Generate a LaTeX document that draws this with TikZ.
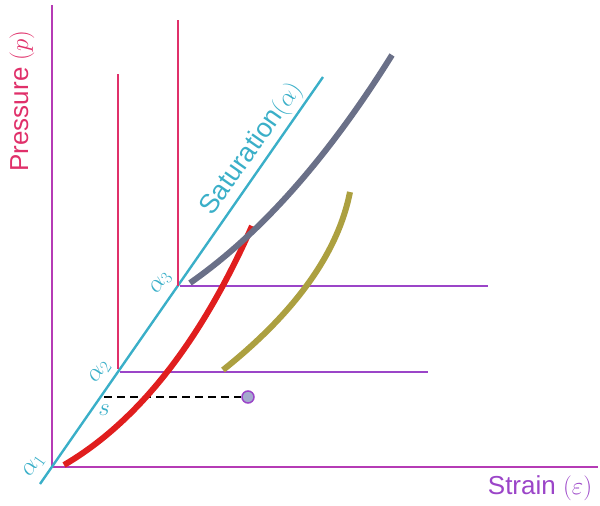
\documentclass[tikz,border=0pt]{standalone}
\usepackage{fontspec}
\setmainfont{Liberation Sans}
\usetikzlibrary{calc}
\definecolor{axiscol}{HTML}{B53BB5}
\definecolor{hcol}{HTML}{9B45C8}
\definecolor{vcol}{HTML}{E0306A}
\definecolor{satcol}{HTML}{3AAFC8}
\definecolor{redc}{HTML}{E01E1E}
\definecolor{grayc}{HTML}{6A7088}
\definecolor{olivec}{HTML}{ACA040}
\definecolor{dotfill}{HTML}{A4AACE}
\tikzset{
  axisline/.style={draw=axiscol,line width=2.6pt},
  hline/.style={draw=hcol,line width=1.5pt},
  vline/.style={draw=vcol,line width=1.3pt},
  satline/.style={draw=satcol,line width=2.4pt},
  curve/.style={line width=6pt},
  alab/.style={text=satcol,rotate=55,font=\fontsize{27}{32}\selectfont,inner sep=0pt},
  bigtxt/.style={font=\fontsize{26}{31}\selectfont,inner sep=0pt}
}
\begin{document}
\begin{tikzpicture}[x=1pt,y=-1pt]
\useasboundingbox (0,0) rectangle (600,506);
% axes
\coordinate (o) at (52,467);
\coordinate (ytop) at (52,5);
\coordinate (xend) at (598,467);
\draw[axisline] (ytop) -- (o) -- (xend);
% saturation line
\coordinate (s0) at (40,484);
\coordinate (s1) at (323,77);
\draw[satline] (s0) -- (s1);
% vertical lines
\coordinate (v2b) at (118,369); \coordinate (v2t) at (118,74);
\coordinate (v3b) at (178,286); \coordinate (v3t) at (178,20);
\draw[vline] (v2b) -- (v2t);
\draw[vline] (v3b) -- (v3t);
% horizontal lines
\coordinate (h3a) at (180,286); \coordinate (h3b) at (488,286);
\coordinate (h2a) at (120,372); \coordinate (h2b) at (428,372);
\draw[hline] (h3a) -- (h3b);
\draw[hline] (h2a) -- (h2b);
% dashed line and dot
\node[circle,draw=hcol,fill=dotfill,line width=1.5pt,minimum size=12pt,inner sep=0pt] (dot) at (248,397) {};
\coordinate (d0) at (104,397);
\draw[line width=1.8pt,dash pattern=on 8pt off 5pt] (d0) -- (dot.west);
% curves (quadratic, written as cubic)
\coordinate (r0) at (64,465); \coordinate (rc) at (175,400); \coordinate (r1) at (252,226);
\draw[curve,redc] (r0) .. controls ($(r0)!2/3!(rc)$) and ($(r1)!2/3!(rc)$) .. (r1);
\coordinate (g0) at (190,283); \coordinate (gc) at (296,209); \coordinate (g1) at (392,55);
\draw[curve,grayc] (g0) .. controls ($(g0)!2/3!(gc)$) and ($(g1)!2/3!(gc)$) .. (g1);
\coordinate (o0) at (223,370); \coordinate (oc) at (332,283); \coordinate (o1) at (350,192);
\draw[curve,olivec] (o0) .. controls ($(o0)!2/3!(oc)$) and ($(o1)!2/3!(oc)$) .. (o1);
% labels
\node[alab] (a1) at (34,466) {$\alpha_1$};
\node[alab] (a2) at (100,372) {$\alpha_2$};
\node[alab] (a3) at (161,283) {$\alpha_3$};
\node[alab,rotate=-55] (sl) at (104,410) {$s$};
\node[text=satcol,rotate=55,font=\fontsize{27}{32}\selectfont,inner sep=0pt] (sat) at (252,149) {Saturation$(\alpha)$};
\node[bigtxt,text=vcol,rotate=90] (pl) at (22,101) {Pressure $(p)$};
\node[bigtxt,text=hcol] (el) at (540,488) {Strain $(\varepsilon)$};
\end{tikzpicture}
\end{document}
